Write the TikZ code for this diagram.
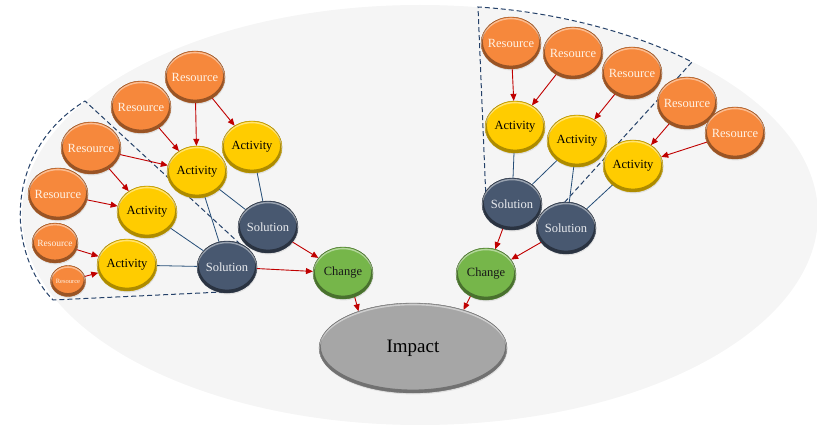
\documentclass[tikz,border=0pt]{standalone}
\usepackage{fontspec}
\setmainfont{Liberation Serif}
\usetikzlibrary{shapes.geometric,arrows.meta,shadows,calc}

\definecolor{cBg}{RGB}{245,245,245}
\definecolor{cOrange}{RGB}{246,136,60}
\colorlet{cOrangeE}{cOrange!62!black}
\definecolor{cYellow}{RGB}{255,204,0}
\colorlet{cYellowE}{cYellow!68!black}
\definecolor{cNavy}{RGB}{72,88,112}
\colorlet{cNavyE}{cNavy!58!black}
\definecolor{cGreen}{RGB}{118,182,74}
\colorlet{cGreenE}{cGreen!62!black}
\definecolor{cGray}{RGB}{166,166,166}
\colorlet{cGrayE}{cGray!68!black}
\definecolor{cRed}{RGB}{192,0,0}
\definecolor{cBlue}{RGB}{38,78,120}
\definecolor{cDash}{RGB}{36,64,104}
\definecolor{cResText}{RGB}{255,242,228}
\definecolor{cSolText}{RGB}{232,234,238}

\tikzset{
  bevel/.style={path picture={
    \path let \p1=($(path picture bounding box.north east)-(path picture bounding box.center)$) in
      [draw=#1, line width=3.6pt] ([yshift=1.6pt]path picture bounding box.center) ellipse ({\x1} and {\y1});
    \path let \p1=($(path picture bounding box.north east)-(path picture bounding box.center)$) in
      [draw=white, draw opacity=0.45, line width=1.4pt] ([yshift=-1.6pt]path picture bounding box.center) ellipse ({\x1} and {\y1});
  }},
  ball/.style={ellipse, inner xsep=-12pt, inner ysep=0pt, minimum width=60pt, minimum height=52pt,
    line width=0.3pt,
    drop shadow={opacity=0.18, shadow xshift=0.6pt, shadow yshift=-1.4pt},
    font=\fontsize{12.5}{12.5}\selectfont},
  res/.style={ball, fill=cOrange, bevel=cOrangeE, draw=cOrangeE, text=cResText},
  act/.style={ball, fill=cYellow, bevel=cYellowE, draw=cYellowE, text=black},
  sol/.style={ball, fill=cNavy, bevel=cNavyE, draw=cNavyE, text=cSolText},
  chg/.style={ball, fill=cGreen, bevel=cGreenE, draw=cGreenE, text=black!90},
  imp/.style={ball, fill=cGray, bevel=cGrayE, draw=cGrayE, text=black, minimum width=188pt, minimum height=90pt,
    font=\fontsize{19}{19}\selectfont},
  arr/.style={draw=cRed, line width=0.9pt, -{Triangle[length=7pt,width=6pt]}},
  lnk/.style={draw=cBlue, line width=0.8pt},
  grp/.style={draw=cDash, line width=1pt, dash pattern=on 5pt off 3pt}
}

\begin{document}
\begin{tikzpicture}[x=1pt, y=-1pt]
\useasboundingbox (0,0) rectangle (817,425);
\fill[cBg] (420,215) ellipse (398 and 210);

% dashed group outlines
\draw[grp] (252,255) -- (85,101) .. controls (5,150) and (5,250) .. (53,300) -- (222,292);
\draw[grp] (486,200) -- (478,7) .. controls (560,12) and (640,35) .. (692,62) -- (553,215);

% left group
\node[res] (r1) at (195,77) {Resource};
\node[res] (r2) at (141,107) {Resource};
\node[res] (r3) at (91,148) {Resource};
\node[res] (r4) at (58,194) {Resource};
\node[res, minimum width=46pt, minimum height=40pt, font=\fontsize{9.5}{9.5}\selectfont] (r5) at (55,243) {Resource};
\node[res, minimum width=35pt, minimum height=31pt, font=\fontsize{6.5}{6.5}\selectfont] (r6) at (68,281) {Resource};
\node[act] (a1) at (197,172) {Activity};
\node[act] (a2) at (252,147) {Activity};
\node[act] (a3) at (147,212) {Activity};
\node[act] (a4) at (127,265) {Activity};
\node[sol] (s1) at (268,227) {Solution};
\node[sol] (s2) at (227,267) {Solution};
\node[chg] (c1) at (343,273) {Change};

% center
\node[imp] (imp) at (413,348) {Impact};

% right group
\node[chg] (c2) at (486,274) {Change};
\node[res] (r7) at (511,43) {Resource};
\node[res] (r8) at (573,53) {Resource};
\node[res] (r9) at (632,73) {Resource};
\node[res] (r10) at (687,103) {Resource};
\node[res] (r11) at (735,133) {Resource};
\node[act] (a5) at (515,127) {Activity};
\node[act] (a6) at (577,141) {Activity};
\node[act] (a7) at (633,166) {Activity};
\node[sol] (s3) at (512,204) {Solution};
\node[sol] (s4) at (566,228) {Solution};

% blue links
\draw[lnk] (a1) -- (s1);
\draw[lnk] (a1) -- (s2);
\draw[lnk] (a2) -- (s1);
\draw[lnk] (a3) -- (s2);
\draw[lnk] (a4) -- (s2);
\draw[lnk] (a5) -- (s3);
\draw[lnk] (a6) -- (s3);
\draw[lnk] (a6) -- (s4);
\draw[lnk] (a7) -- (s4);

% red arrows
\draw[arr] (r1) -- (a1);
\draw[arr] (r1) -- (a2);
\draw[arr] (r2) -- (a1);
\draw[arr] (r3) -- (a1);
\draw[arr] (r3) -- (a3);
\draw[arr] (r4) -- (a3);
\draw[arr] (r5) -- (a4);
\draw[arr] (r6) -- (a4);
\draw[arr] (s1) -- (c1);
\draw[arr] (s2) -- (c1);
\draw[arr] (c1.-64) -- (imp.146);
\draw[arr] (r7) -- (a5);
\draw[arr] (r8) -- (a5);
\draw[arr] (r9) -- (a6);
\draw[arr] (r10) -- (a7);
\draw[arr] (r11) -- (a7);
\draw[arr] (s3) -- (c2);
\draw[arr] (s4) -- (c2);
\draw[arr] (c2.-125) -- (imp.37);
\end{tikzpicture}
\end{document}
